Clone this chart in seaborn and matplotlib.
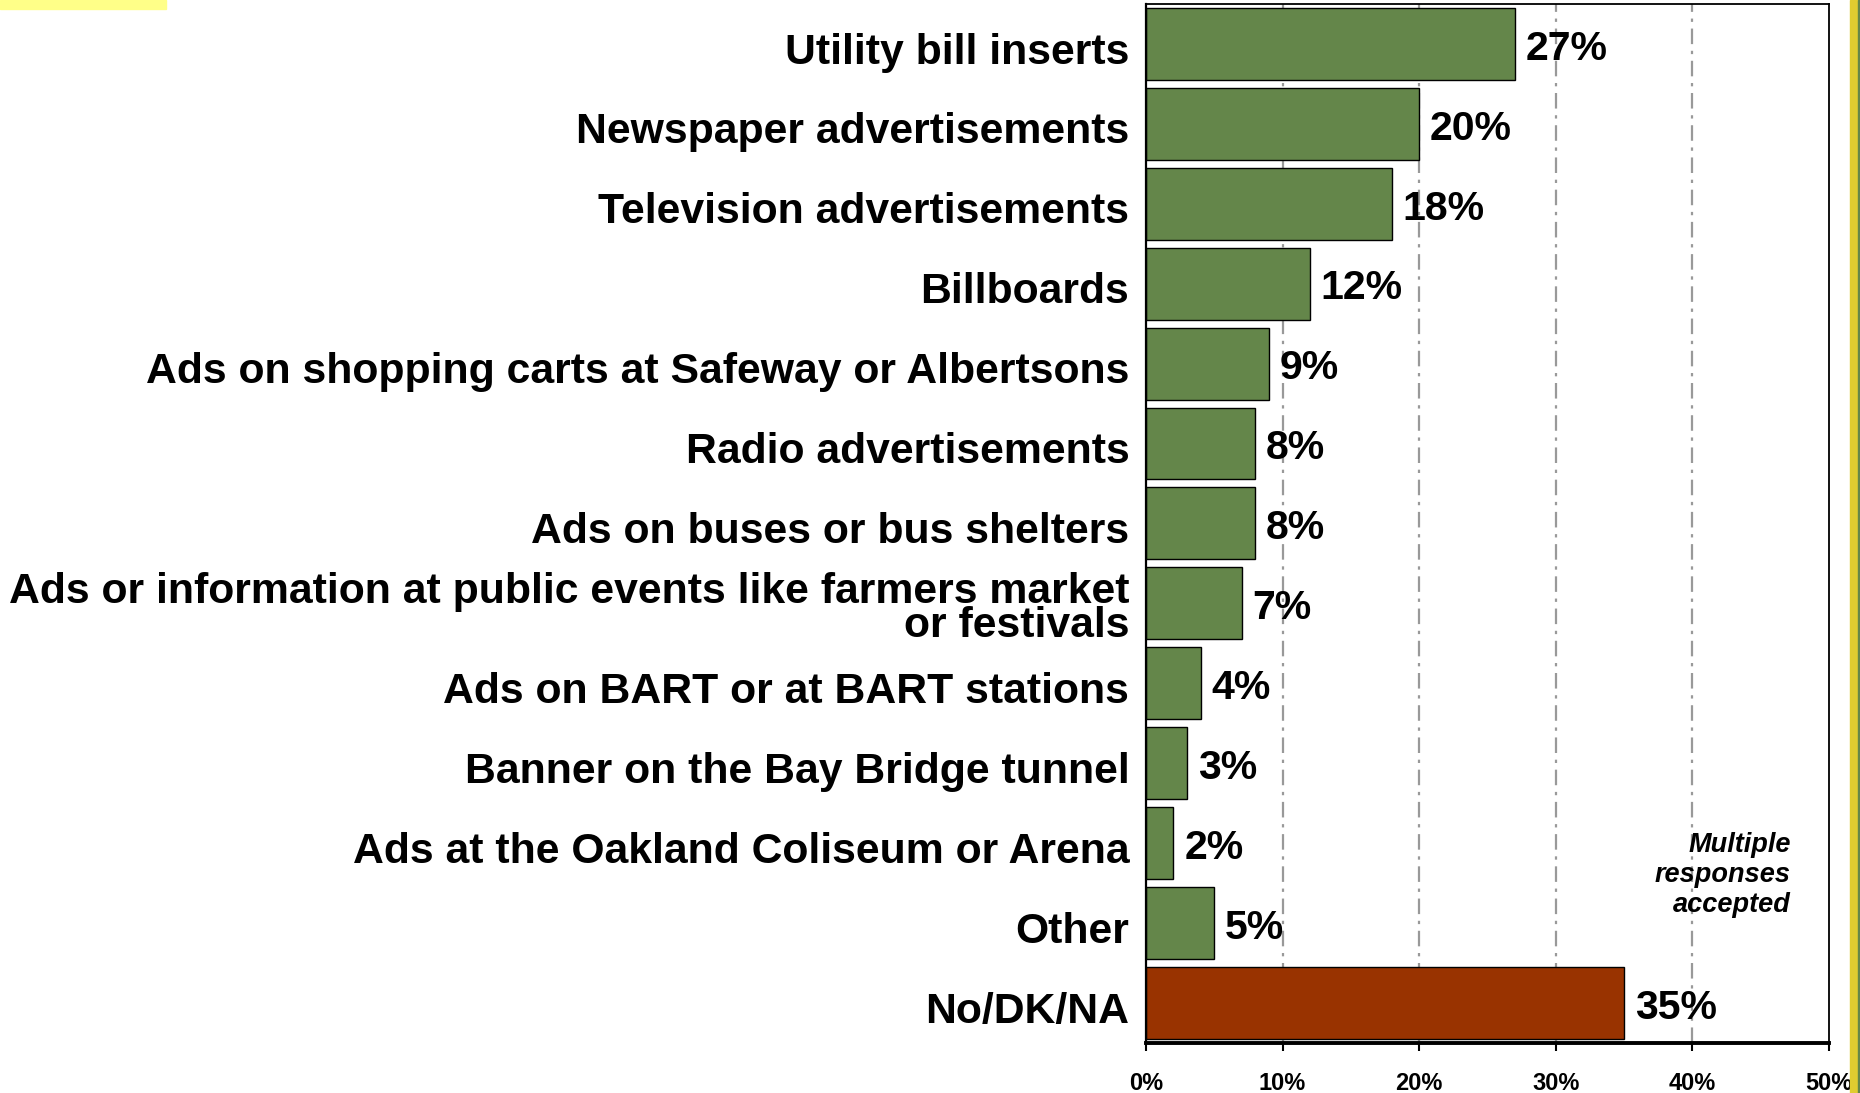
import matplotlib
matplotlib.use("Agg")
import matplotlib.pyplot as plt
import matplotlib.transforms as mtransforms
import seaborn as sns
import pandas as pd
from matplotlib.patches import Rectangle

categories = [
    "Utility bill inserts",
    "Newspaper advertisements",
    "Television advertisements",
    "Billboards",
    "Ads on shopping carts at Safeway or Albertsons",
    "Radio advertisements",
    "Ads on buses or bus shelters",
    "Ads or information at public events like farmers market\nor festivals",
    "Ads on BART or at BART stations",
    "Banner on the Bay Bridge tunnel",
    "Ads at the Oakland Coliseum or Arena",
    "Other",
    "No/DK/NA",
]
values = [27, 20, 18, 12, 9, 8, 8, 7, 4, 3, 2, 5, 35]
tick_values = [0, 10, 20, 30, 40, 50]
tick_labels = ["0%", "10%", "20%", "30%", "40%", "50%"]

GREEN = "#64864a"
RED = "#993300"

sns.set_theme(style="white")
plt.rcParams['font.family'] = ['Liberation Sans', 'DejaVu Sans']

df = pd.DataFrame({"cat": categories, "val": values})
colors = [GREEN] * (len(categories) - 1) + [RED]

fig = plt.figure(figsize=(18.6, 10.93), dpi=100)
ax = fig.add_axes([0.6161, 0.0458, 0.3672, 0.9506])

sns.barplot(data=df, y="cat", x="val", hue="cat", palette=colors, legend=False,
            orient="h", width=0.9, edgecolor="black", linewidth=1, ax=ax, saturation=1)

ax.set_xlim(0, 50)
ax.set_ylim(12.5, -0.5)

# dash-dot gridlines
for xv in tick_values[1:-1]:
    ax.axvline(xv, color="#999999", linestyle=(0, (7, 3, 1.5, 3)), linewidth=1.6, zorder=0)

for i, v in enumerate(values):
    ax.text(v + 0.8, i + 0.06, f"{v}%", va="center", ha="left",
            fontsize=29.5, fontweight="bold", color="black")

ax.set_xticks(tick_values)
ax.set_xticklabels(tick_labels, fontsize=17, fontweight="bold", color="black")
ax.tick_params(axis="x", direction="out", length=5.8, width=1.5, color="black", pad=15, bottom=True)
ax.tick_params(axis="y", length=0, pad=12)
shift = mtransforms.ScaledTranslation(0, -3 / 72, fig.dpi_scale_trans)
for lab in ax.get_yticklabels():
    lab.set_fontsize(30.8)
    lab.set_fontweight("bold")
    lab.set_color("black")
    lab.set_linespacing(0.8)
    lab.set_transform(lab.get_transform() + shift)

ax.set_xlabel("")
ax.set_ylabel("")

for side in ["top", "right", "left"]:
    ax.spines[side].set_visible(True)
    ax.spines[side].set_color("black")
    ax.spines[side].set_linewidth(1.3)
ax.spines["bottom"].set_color("black")
ax.spines["bottom"].set_linewidth(2.8)
ax.spines["left"].set_linewidth(1.6)

ax.text(0.944, 0.162, "Multiple\nresponses\naccepted", transform=ax.transAxes,
        ha="right", va="center", fontsize=19.5, fontweight="bold", style="italic",
        linespacing=1.2, color="black")

# decorative strips from the slide
fig.patches.append(Rectangle((0, 1 - 9 / 1093), 166 / 1860, 9 / 1093, transform=fig.transFigure,
                             color="#ffff88", zorder=0))
fig.patches.append(Rectangle((1850 / 1860, 0), 8 / 1860, 1, transform=fig.transFigure,
                             color="#e0cc30", zorder=0))
fig.patches.append(Rectangle((1858 / 1860, 0), 2 / 1860, 1, transform=fig.transFigure,
                             color="#64864a", zorder=0))

fig.savefig("out.png", dpi=100)
